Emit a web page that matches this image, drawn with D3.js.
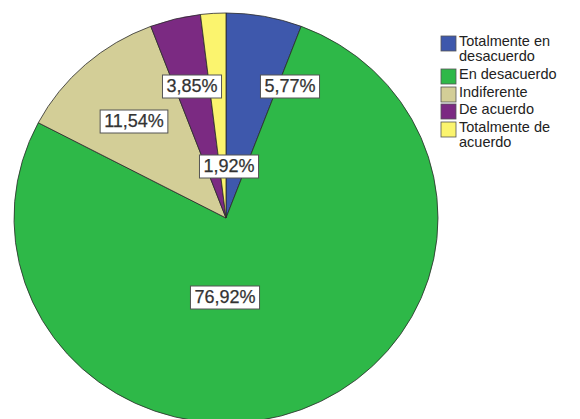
<!DOCTYPE html>
<html>
<head>
<meta charset="utf-8">
<script src="https://cdn.jsdelivr.net/npm/d3@7"></script>
<style>
  html, body { margin: 0; padding: 0; background: #fff; }
  svg { display: block; }
</style>
</head>
<body>
<svg id="chart" width="580" height="419"></svg>
<script>
const categories = ["Totalmente en desacuerdo", "En desacuerdo", "Indiferente", "De acuerdo", "Totalmente de acuerdo"];
const legendLines = [["Totalmente en", "desacuerdo"], ["En desacuerdo"], ["Indiferente"], ["De acuerdo"], ["Totalmente de", "acuerdo"]];
const counts = [3, 40, 6, 2, 1];
const percentLabels = ["5,77%", "76,92%", "11,54%", "3,85%", "1,92%"];
const colors = ["#3e58ac", "#2eb848", "#d3ce97", "#7b2a82", "#fbf46e"];

// label anchor points (layout, not data)
const labelPos = [[290, 86], [225, 297], [134, 121], [192, 86], [229, 166]];

const svg = d3.select("#chart");
const cx = 226, cy = 218, rx = 212, ry = 205;

const pie = d3.pie().sort(null).value(d => d)(counts);
const arc = d3.arc().innerRadius(0).outerRadius(rx);

const g = svg.append("g").attr("transform", `translate(${cx},${cy}) scale(1,${ry / rx})`);
g.selectAll("path").data(pie).join("path")
  .attr("d", arc)
  .attr("fill", (d, i) => colors[i])
  .attr("stroke", "#2a2a2a")
  .attr("stroke-width", 0.8)
  .attr("vector-effect", "non-scaling-stroke");

// labels
const lg = svg.append("g");
percentLabels.forEach((t, i) => {
  const [x, y] = labelPos[i];
  const grp = lg.append("g");
  const txt = grp.append("text")
    .attr("x", x).attr("y", y)
    .attr("text-anchor", "middle")
    .attr("dominant-baseline", "central")
    .attr("font-family", "Liberation Sans, Arial, sans-serif")
    .attr("font-size", 18)
    .attr("fill", "#333")
    .attr("stroke", "#333")
    .attr("stroke-width", 0.25)
    .text(t);
  const bb = txt.node().getBBox();
  grp.insert("rect", "text")
    .attr("x", bb.x - 4).attr("y", bb.y - 1)
    .attr("width", bb.width + 8).attr("height", bb.height + 3)
    .attr("fill", "#fff")
    .attr("stroke", "#555")
    .attr("stroke-width", 1);
});

// legend
const leg = svg.append("g").attr("transform", "translate(441,34)");
const rowY = [0, 33, 51, 68, 86];
categories.forEach((c, i) => {
  const row = leg.append("g").attr("transform", `translate(0,${rowY[i]})`);
  row.append("rect")
    .attr("x", 0).attr("y", 2)
    .attr("width", 15).attr("height", 15)
    .attr("fill", colors[i])
    .attr("stroke", "#555").attr("stroke-width", 0.8);
  legendLines[i].forEach((ln, j) => {
    row.append("text")
      .attr("x", 18).attr("y", 12 + j * 14.5)
      .attr("font-family", "Liberation Sans, Arial, sans-serif")
      .attr("font-size", 14.5)
      .attr("fill", "#222")
      .text(ln);
  });
});
</script>
</body>
</html>
